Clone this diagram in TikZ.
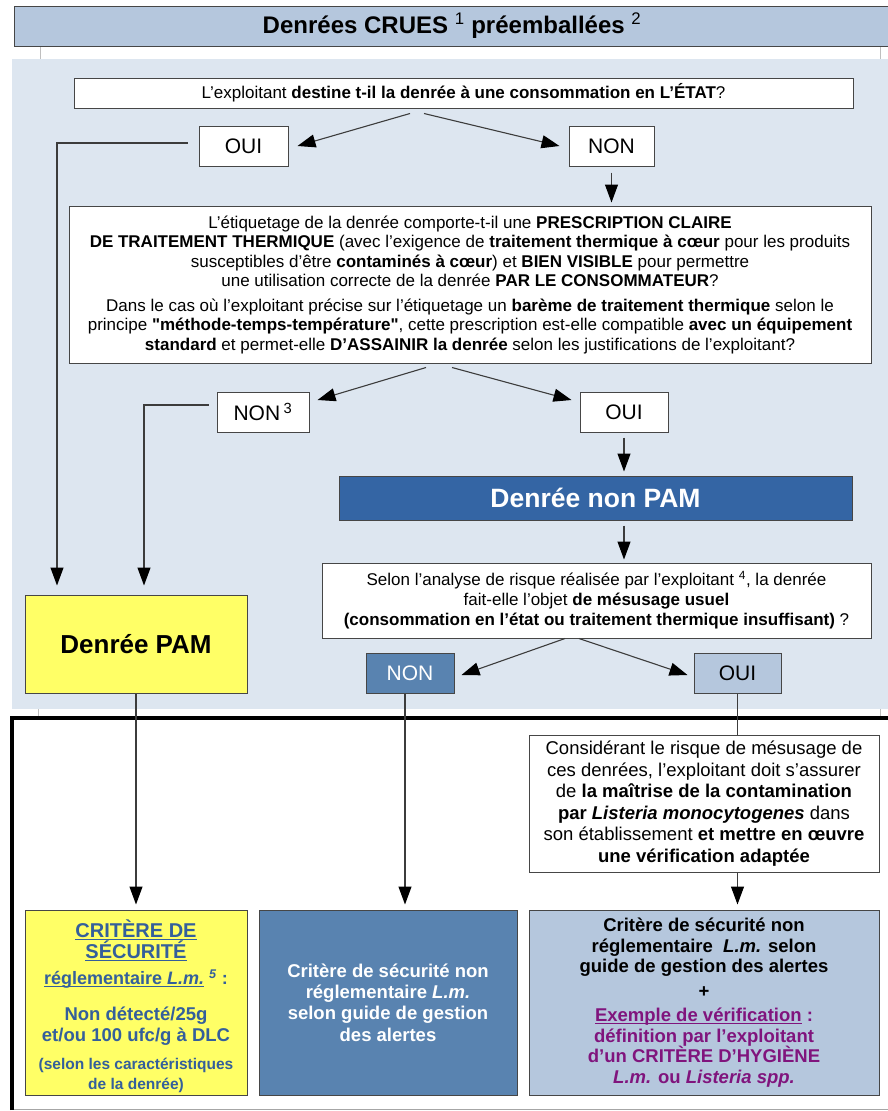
\documentclass[tikz,border=0pt]{standalone}
\usepackage{fontspec}
\setmainfont{Liberation Sans}
\usetikzlibrary{arrows.meta}
\definecolor{bgblue}{RGB}{221,230,240}
\definecolor{lightb}{RGB}{181,199,221}
\definecolor{midb}{RGB}{89,131,176}
\definecolor{darkb}{RGB}{52,101,164}
\definecolor{yel}{RGB}{255,255,102}
\definecolor{txtb}{RGB}{52,95,155}
\definecolor{purp}{RGB}{128,20,125}
\definecolor{edge}{RGB}{70,70,70}
\definecolor{lin}{RGB}{60,60,60}
\newcommand\fsz[2]{\fontsize{#1}{#2}\selectfont}
\newcommand\ulx[1]{\underline{\smash{#1}}}
\newcommand\sq{{\addfontfeature{Ligatures=TeXOff}"}}
\begin{document}
\begin{tikzpicture}[x=1pt,y=-1pt,
  box/.style={draw=edge, line width=1pt, fill=white, align=center, inner sep=0pt},
  arr/.style={draw=lin, line width=1.1pt, -{Triangle[length=18pt,width=13pt,color=black]}},
  ln/.style={draw=lin, line width=1.1pt},
  tick/.style={draw=black!25, line width=0.8pt}]
\useasboundingbox (0,0) rectangle (888,1111);
% backgrounds
\fill[bgblue] (12,59) rectangle (890,709);
\draw[tick] (40,46) -- (40,59) (880,46) -- (880,59) (38,709) -- (38,718) (880,709) -- (880,718);
\draw[black!35, line width=1pt] (12,1109.5) -- (890,1109.5);
\draw[black, line width=3.5pt] (12,1110) -- (12,718) -- (892,718);
% title
\node[box, fill=lightb, minimum width=876pt, minimum height=40pt, font=\fsz{24}{28}\bfseries] (title) at (452,26)
  {Denrées CRUES \textsuperscript{\mdseries 1} préemballées \textsuperscript{\mdseries 2}};
% level 1
\node[box, minimum width=779pt, minimum height=30pt, font=\fsz{17}{20}] (q1) at (463.5,93)
  {L'exploitant \textbf{destine t-il la denrée à une consommation en L'ÉTAT}?};
\node[box, minimum width=89pt, minimum height=40pt, font=\fsz{21}{24}] (oui1) at (243.5,146) {OUI};
\node[box, minimum width=85pt, minimum height=40pt, font=\fsz{21}{24}] (non1) at (611.5,146) {NON};
% level 2
\node[box, minimum width=802pt, minimum height=157pt, font=\fsz{17}{19.5}] (q2) at (470,284.5)
  {L'étiquetage de la denrée comporte-t-il une \textbf{PRESCRIPTION CLAIRE}\\
   \textbf{DE TRAITEMENT THERMIQUE} (avec l'exigence de \textbf{traitement thermique à cœur} pour les produits\\
   susceptibles d'être \textbf{contaminés à cœur}) et \textbf{BIEN VISIBLE} pour permettre\\
   une utilisation correcte de la denrée \textbf{PAR LE CONSOMMATEUR}?\\[5pt]
   Dans le cas où l'exploitant précise sur l'étiquetage un \textbf{barème de traitement thermique} selon le\\
   principe \textbf{\sq méthode-temps-température\sq}, cette prescription est-elle compatible \textbf{avec un équipement}\\
   \textbf{standard} et permet-elle \textbf{D'ASSAINIR la denrée} selon les justifications de l'exploitant?};
\node[box, minimum width=92pt, minimum height=40pt, font=\fsz{21}{24}] (non2) at (263,412) {NON\,\textsuperscript{3}};
\node[box, minimum width=88pt, minimum height=40pt, font=\fsz{21}{24}] (oui2) at (624,412) {OUI};
% non PAM branch
\node[box, fill=darkb, text=white, minimum width=513pt, minimum height=44pt, font=\fsz{26.5}{30}\bfseries] (nonpam) at (595.5,498) {Denrée non PAM};
\node[box, minimum width=549pt, minimum height=75pt, font=\fsz{17}{20}] (q3) at (596.5,600.5)
  {Selon l'analyse de risque réalisée par l'exploitant \textsuperscript{4}, la denrée\\
   fait-elle l'objet \textbf{de mésusage usuel}\\
   \textbf{(consommation en l'état ou traitement thermique insuffisant)} ?};
\node[box, fill=midb, text=white, minimum width=88pt, minimum height=40pt, font=\fsz{21}{24}] (non3) at (410,673) {NON};
\node[box, fill=lightb, minimum width=87pt, minimum height=40pt, font=\fsz{21}{24}] (oui3) at (737.5,673) {OUI};
% PAM
\node[box, fill=yel, minimum width=222pt, minimum height=98pt, font=\fsz{26}{30}\bfseries] (pam) at (136,644) {Denrée PAM};
% bottom part
\node[box, minimum width=350pt, minimum height=137pt, font=\fsz{18.5}{21.5}] (cons) at (704,803.5)
  {Considérant le risque de mésusage de\\
   ces denrées, l'exploitant doit s'assurer\\
   de \textbf{la maîtrise de la contamination}\\
   \textbf{par \textit{Listeria monocytogenes}} dans\\
   son établissement \textbf{et mettre en œuvre}\\
   \textbf{une vérification adaptée}};
\node[box, fill=yel, text=txtb, minimum width=222pt, minimum height=185pt, font=\fsz{18.5}{21}\bfseries] (crit1) at (136,1002.5)
  {{\rule{0pt}{26pt}\fsz{20}{21}\ulx{CRITÈRE DE}}\\
   {\fsz{20}{21}\ulx{SÉCURITÉ}}\\[5pt]
   {\fsz{18}{21}\ulx{réglementaire \textit{L.m.}} \textsuperscript{\textit{5}} :}\\[15pt]
   Non détecté/25g\\
   et/ou 100 ufc/g à DLC\\[7pt]
   {\fsz{15.5}{19}(selon les caractéristiques}\\[-1pt]
   {\fsz{15.5}{19}de la denrée)}};
\node[box, fill=midb, text=white, minimum width=258pt, minimum height=185pt, font=\fsz{18.5}{21.3}\bfseries] (crit2) at (388,1002.5)
  {Critère de sécurité non\\
   réglementaire \textit{L.m.}\\
   selon guide de gestion\\
   des alertes};
\node[box, fill=lightb, minimum width=350pt, minimum height=185pt, font=\fsz{18.5}{20.5}\bfseries] (crit3) at (704,1002.5)
  {Critère de sécurité non\\
   réglementaire \ \textit{L.m.} selon\\
   guide de gestion des alertes\\[4pt]
   +\\[4pt]
   {\color{purp}\ulx{Exemple de vérification} :}\\
   {\color{purp}définition par l'exploitant}\\
   {\color{purp}d'un CRITÈRE D'HYGIÈNE}\\
   {\color{purp}\textit{L.m.} ou \textit{Listeria spp.}}};
% connectors
\draw[arr] ([xshift=-53.5pt,yshift=-5pt]q1.south) -- ([xshift=9pt]oui1.east);
\draw[arr] ([xshift=-39.5pt,yshift=-5pt]q1.south) -- ([xshift=-9pt]non1.west);
\draw[arr] ([xshift=-11pt,yshift=3pt]oui1.west) -| ([xshift=-79pt,yshift=9pt]pam.north);
\draw[arr, shorten <=6pt, shorten >=3pt] (non1.south) -- (non1.south |- q2.north);
\draw[arr] ([xshift=-44pt,yshift=-4pt]q2.south) -- ([xshift=8pt,yshift=12pt]non2.east);
\draw[arr] ([xshift=-18pt,yshift=-4pt]q2.south) -- ([xshift=-8pt,yshift=12pt]oui2.west);
\draw[arr] ([xshift=-8pt,yshift=7pt]non2.west) -| ([xshift=8pt,yshift=9pt]pam.north);
\draw[arr, shorten <=5pt, shorten >=4pt] (oui2.south) -- (oui2.south |- nonpam.north);
\draw[arr, shorten <=5pt, shorten >=3pt] (nonpam.south -| oui2.south) -- (oui2.south |- q3.north);
\draw[arr] ([xshift=-31.5pt]q3.south) -- ([xshift=7pt,yshift=-2pt]non3.east);
\draw[arr] ([xshift=-17.5pt]q3.south) -- ([xshift=-6pt,yshift=-2pt]oui3.west);
\draw[arr, shorten >=5pt] (pam.south) -- (pam.south |- crit1.north);
\coordinate (n3b) at ([xshift=-5pt]non3.south);
\draw[arr, shorten >=5pt] (n3b) -- (n3b |- crit2.north);
\draw[ln] (oui3.south) -- (oui3.south |- cons.north);
\draw[arr, shorten >=5pt] (cons.south -| oui3.south) -- (oui3.south |- crit3.north);
\end{tikzpicture}
\end{document}
